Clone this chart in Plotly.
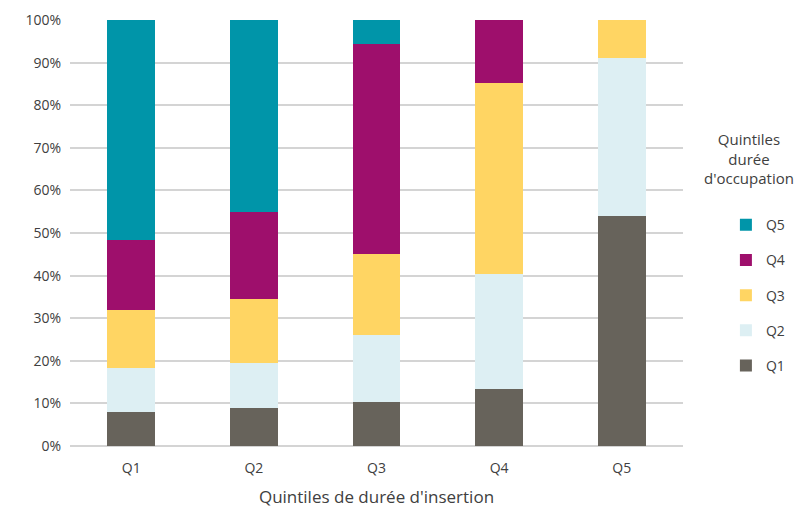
import plotly.graph_objects as go

categories = ["Q1", "Q2", "Q3", "Q4", "Q5"]
series_names = ["Q1", "Q2", "Q3", "Q4", "Q5"]
q1_vals = [7.9, 8.9, 10.4, 13.3, 53.9]
q2_vals = [10.5, 10.6, 15.6, 27.0, 37.2]
q3_vals = [13.5, 14.9, 19.1, 44.9, 8.9]
q4_vals = [16.5, 20.6, 49.3, 14.8, 0.0]
q5_vals = [51.6, 45.0, 5.6, 0.0, 0.0]
colors = ["#67635B", "#DDEFF3", "#FFD563", "#9E0F6C", "#0095A9"]
y_ticks = [0, 10, 20, 30, 40, 50, 60, 70, 80, 90, 100]
y_tick_labels = [f"{v}%" for v in y_ticks]

values = [q1_vals, q2_vals, q3_vals, q4_vals, q5_vals]

fig = go.Figure()
for i, (name, vals, col) in enumerate(zip(series_names, values, colors)):
    fig.add_trace(go.Bar(
        x=categories, y=vals, name=name, legendgroup=name,
        legendrank=100 - i,
        marker=dict(color=col, line=dict(width=0)),
        hoverinfo="x+y+name",
    ))

fig.add_annotation(
    text="Quintiles<br>durée<br>d'occupation", align="center",
    xref="paper", yref="paper", x=1.108, y=0.75, xanchor="center", yanchor="top",
    showarrow=False, font=dict(size=15, color="#404040"),
)

fig.update_layout(
    barmode="stack",
    bargap=0.61,
    width=803, height=510,
    margin=dict(l=70, r=120, t=20, b=64, autoexpand=False),
    plot_bgcolor="white", paper_bgcolor="white",
    font=dict(family="Open Sans, Noto Sans, sans-serif", size=14, color="#404040"),
    legend=dict(
        traceorder="grouped",
        tracegroupgap=14,
        x=1.07, xanchor="left", y=0.556, yanchor="top",
        font=dict(size=14, color="#404040"),
        itemwidth=30,
    ),
    xaxis=dict(
        title=dict(text="Quintiles de durée d'insertion", standoff=15,
                   font=dict(size=17, color="#404040")),
        showgrid=False, showline=False, ticks="", zeroline=False,
        ticklabelstandoff=12,
    ),
    yaxis=dict(
        range=[0, 100], tickvals=y_ticks, ticktext=y_tick_labels,
        showgrid=True, gridcolor="#D4D4D4", gridwidth=1.5,
        zeroline=True, zerolinecolor="#D4D4D4", zerolinewidth=1.5,
        showline=False, ticks="", ticklabelstandoff=8,
    ),
)

fig.write_html("out.html")
